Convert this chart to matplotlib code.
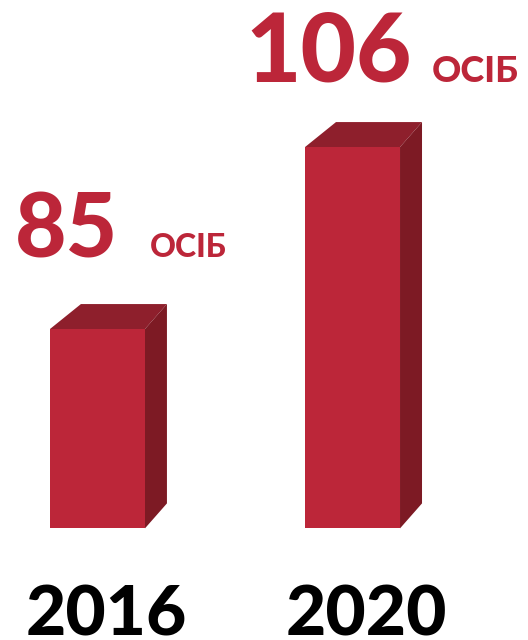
import matplotlib
matplotlib.use("Agg")
import matplotlib.pyplot as plt
from matplotlib.patches import Polygon

years = ["2016", "2020"]
values = [85, 106]
unit = "ОСІБ"
baseline = 62  # bars start from here, not zero

front_c = "#bc2639"
top_c = "#8e1f2c"
side_c = "#7d1a24"

fig = plt.figure(figsize=(5.28, 6.4), dpi=100)
ax = fig.add_axes([0, 0, 1, 1])
ax.set_xlim(-0.382, 1.688)
ax.set_ylim(49.12, 122.97)
ax.axis("off")

x = [0, 1]
w = 0.3725
bars = ax.bar(x, [v - baseline for v in values], width=w, bottom=baseline,
              color=front_c, linewidth=0, zorder=3)

# pixel offsets -> data units
px_x = 2.07 / 528
px_y = 73.85 / 640
dxl, dxr, dy = 31 * px_x, 22 * px_x, 25 * px_y

for b in bars:
    x0, x1 = b.get_x(), b.get_x() + b.get_width()
    y0, y1 = b.get_y(), b.get_y() + b.get_height()
    ax.add_patch(Polygon([(x0, y1), (x1, y1), (x1 + dxr, y1 + dy), (x0 + dxl, y1 + dy)],
                         closed=True, color=top_c, lw=0, zorder=2))
    ax.add_patch(Polygon([(x1, y0), (x1, y1), (x1 + dxr, y1 + dy), (x1 + dxr, y0 + dy)],
                         closed=True, color=side_c, lw=0, zorder=2))

font = ["Lato", "DejaVu Sans"]
# value labels
big_sizes = [64, 69]
small_sizes = [23, 26]
label_pos = [(15, 257), (245, 82)]  # left/baseline in pixels from top
unit_pos = [(150, 257), (432, 82)]
for i, v in enumerate(values):
    lx, ly = label_pos[i]
    ax.text(lx / 528, 1 - ly / 640, str(v), transform=ax.transAxes, ha="left", va="baseline",
            fontsize=big_sizes[i], fontweight="black", family=font, color=front_c)
    ux, uy = unit_pos[i]
    ax.text(ux / 528, 1 - uy / 640, unit, transform=ax.transAxes, ha="left", va="baseline",
            fontsize=small_sizes[i], fontweight="black", family=font, color=front_c)

# year labels
year_shift = [0.035, 0.055]
for i, y in enumerate(years):
    ax.text(x[i] + year_shift[i], 49.6, y, ha="center", va="baseline",
            fontsize=50, fontweight="black", family=font, color="black")

fig.savefig("out.png", dpi=100)
